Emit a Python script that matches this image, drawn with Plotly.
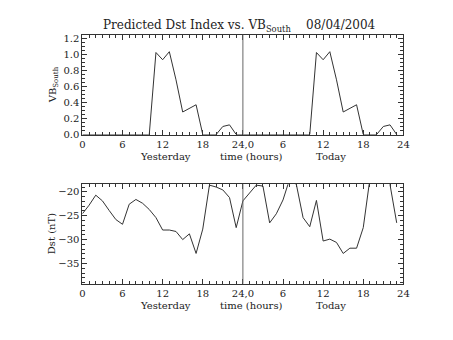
import plotly.graph_objects as go

# ---- data ----
hours = list(range(48))
vb_day = [0, 0, 0, 0, 0, 0, 0, 0, 0, 0, 0, 1.02, 0.93, 1.03, 0.68, 0.28, 0.32, 0.37,
          0, 0, 0, 0.10, 0.12, 0]
vb_south = vb_day + vb_day
dst = [-24.6, -22.8, -20.7, -21.9, -23.9, -25.8, -26.8, -22.6, -21.6, -22.4, -23.7, -25.4,
       -28.0, -28.0, -28.3, -30.0, -28.8, -32.9, -27.8, -18.6, -19.0, -19.6, -21.2, -27.5,
       -21.9, -20.3, -18.6, -18.8, -26.5, -24.6, -21.7, -17.3, -18.5, -25.4, -27.3, -21.8,
       -30.3, -29.9, -30.6, -32.9, -31.8, -31.8, -27.5, -17.2, -16.5, -16.5, -18.5, -26.5]
x_tickvals = [0, 6, 12, 18, 24, 30, 36, 42, 48]
x_ticktext = ["0", "6", "12", "18", "24,0", "6", "12", "18", "24"]
x_labels = ["Yesterday", "time (hours)", "Today"]
x_label_pos = [12.4, 25.25, 37.2]
title_text = "Predicted Dst Index vs. VB<sub>South</sub>\u00a0\u00a0\u00a0\u00a008/04/2004"

W, H = 453, 340
FONT = "DejaVu Serif"
LC = "#333333"
TC = "#222222"

fig = go.Figure()
fig.add_trace(go.Scatter(x=hours, y=vb_south, mode="lines", line=dict(color=LC, width=1),
                         xaxis="x", yaxis="y", showlegend=False, hoverinfo="skip"))
fig.add_trace(go.Scatter(x=hours, y=dst, mode="lines", line=dict(color=LC, width=1),
                         xaxis="x2", yaxis="y2", showlegend=False, hoverinfo="skip"))

xdom = [81 / W, 408.5 / W]
ydom_top = [1 - 135.3 / H, 1 - 33.5 / H]
ydom_bot = [1 - 287.7 / H, 1 - 186 / H]

def xax(anchor):
    return dict(domain=xdom, anchor=anchor, range=[0, 48], tickvals=x_tickvals,
                ticktext=x_ticktext, ticks="inside", ticklen=5, tickcolor=LC,
                showline=True, linecolor=LC, linewidth=1, mirror="ticks",
                showgrid=False, zeroline=False,
                minor=dict(ticks="inside", dtick=1, ticklen=3, tickcolor=LC, showgrid=False),
                tickfont=dict(family=FONT, size=10, color=TC))

fig.update_layout(
    width=W, height=H,
    margin=dict(l=0, r=0, t=0, b=0),
    paper_bgcolor="white", plot_bgcolor="white",
    xaxis=xax("y"),
    xaxis2=xax("y2"),
    yaxis=dict(domain=ydom_top, anchor="x", range=[0, 1.24], tickvals=[0, 0.2, 0.4, 0.6, 0.8, 1.0, 1.2],
               tickformat=".1f", ticks="inside", ticklen=5, tickcolor=LC,
               showline=True, linecolor=LC, linewidth=1, mirror="ticks",
               showgrid=False, zeroline=False,
               minor=dict(ticks="inside", dtick=0.05, tick0=0, ticklen=3, tickcolor=LC, showgrid=False),
               tickfont=dict(family=FONT, size=10, color=TC)),
    yaxis2=dict(domain=ydom_bot, anchor="x2", range=[-39.25, -18.4], tickvals=[-35, -30, -25, -20],
                ticks="inside", ticklen=5, tickcolor=LC,
                showline=True, linecolor=LC, linewidth=1, mirror="ticks",
                showgrid=False, zeroline=False,
                minor=dict(ticks="inside", dtick=1, tick0=-20, ticklen=3, tickcolor=LC, showgrid=False),
                tickfont=dict(family=FONT, size=10, color=TC)),
)

# vertical divider at 24 h
for xr, yr in [("x", "y domain"), ("x2", "y2 domain")]:
    fig.add_shape(type="line", xref=xr, yref=yr, x0=24, x1=24, y0=0, y1=1,
                  line=dict(color="#666666", width=1))

# bottom labels
for xr, ypix in [("x", 158), ("x2", 310)]:
    for lab, pos in zip(x_labels, x_label_pos):
        fig.add_annotation(text=lab, x=pos, xref=xr, y=1 - ypix / H, yref="paper",
                           showarrow=False, xanchor="center", yanchor="middle",
                           font=dict(family=FONT, size=10, color=TC))

# y titles
fig.add_annotation(text="VB<sub>South</sub>", x=51 / W, y=1 - 84 / H, xref="paper", yref="paper",
                   textangle=-90, showarrow=False, xanchor="center", yanchor="middle",
                   font=dict(family=FONT, size=10, color=TC))
fig.add_annotation(text="Dst (nT)", x=49 / W, y=1 - 237 / H, xref="paper", yref="paper",
                   textangle=-90, showarrow=False, xanchor="center", yanchor="middle",
                   font=dict(family=FONT, size=10, color=TC))

# title
fig.add_annotation(text=title_text, x=241.5 / W, y=1 - 24 / H, xref="paper", yref="paper",
                   showarrow=False, xanchor="center", yanchor="middle",
                   font=dict(family=FONT, size=12, color=TC))

fig.write_html("out.html")
